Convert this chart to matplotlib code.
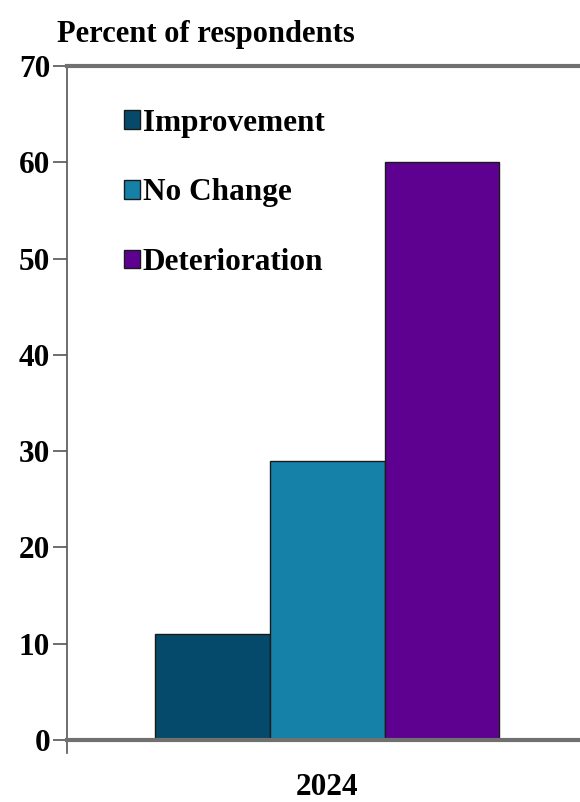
import numpy as np
import matplotlib.pyplot as plt

# survey shares for one year
year = "2024"
categories = ["Improvement", "No Change", "Deterioration"]
values = [11, 29, 60]
colors = ["#054a6a", "#1580a8", "#5e0090"]
yticks = [0, 10, 20, 30, 40, 50, 60, 70]

plt.rcParams['font.family'] = ['Liberation Serif', 'DejaVu Serif']
plt.rcParams['font.weight'] = 'bold'

fig = plt.figure(figsize=(5.8, 8.02), dpi=100)
ax = fig.add_axes([0.1155, 0.0773, 0.8845, 0.8404])

width = 0.224
offsets = (np.arange(len(categories)) - 1) * width
for off, v, c, lab in zip(offsets, values, colors, categories):
    ax.bar(off, v, width=width, color=c, edgecolor="#1a1a1a",
           linewidth=1.0, label=lab)

ax.set_ylim(0, 70)
ax.set_xlim(-0.507, 0.493)
ax.set_yticks(yticks)
ax.set_xticks([0])
ax.set_xticklabels([year])
ax.tick_params(axis='y', length=10, width=1.2, color="#555555",
               labelsize=22.5, pad=2)
ax.tick_params(axis='x', length=0, labelsize=22.5, pad=24)

ax.spines['right'].set_visible(False)
ax.spines['top'].set_color("#707070")
ax.spines['top'].set_linewidth(3)
ax.spines['bottom'].set_color("#707070")
ax.spines['bottom'].set_linewidth(3)
ax.spines['left'].set_color("#555555")
ax.spines['left'].set_linewidth(1.2)

# left axis runs a little past zero
ax.plot([0, 0], [0, -0.02], transform=ax.transAxes, color="#555555",
        lw=1.2, clip_on=False)

ax.text(-0.02, 1.025, "Percent of respondents", transform=ax.transAxes,
        fontsize=22, ha='left', va='bottom')

ax.legend(loc='upper left', bbox_to_anchor=(0.087, 0.955), frameon=False,
          fontsize=22.5, handlelength=0.5, handleheight=0.55,
          handletextpad=0.1, labelspacing=1.3, borderaxespad=0)

fig.savefig("out.png", dpi=100)
